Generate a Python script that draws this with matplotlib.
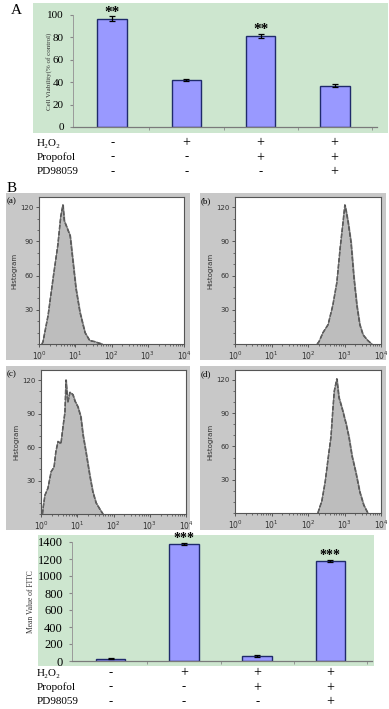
#!/usr/bin/env python3
"""
Figura: viabilidade celular (A), histogramas de citometria (B) e media FITC
"""

import matplotlib
matplotlib.use("Agg")
import matplotlib.pyplot as plt
import numpy as np
from matplotlib.patches import Rectangle
from matplotlib.ticker import LogLocator, NullFormatter, MultipleLocator

W, H = 389, 709

# Painel A - viabilidade (% do controle)
viab = [96.5, 42.0, 81.3, 36.8]
viab_err = [2.2, 0.7, 1.8, 1.2]
viab_stars = ["**", "", "**", ""]

# Grafico FITC
fitc = [25, 1380, 60, 1180]
fitc_err = [6, 12, 8, 10]
fitc_stars = ["", "***", "", "***"]

rotulos = ["H\u2082O\u2082", "Propofol", "PD98059"]
sinais = [
    ["-", "+", "+", "+"],
    ["-", "-", "+", "+"],
    ["-", "-", "-", "+"],
]

# Histogramas (log10 intensidade, contagem)
hist_a_log = [0.08, 0.11, 0.25, 0.39, 0.52, 0.60, 0.66, 0.70, 0.75, 0.86, 0.94,
              1.02, 1.13, 1.27, 1.40, 1.55, 1.63, 1.75]
hist_a_cnt = [0, 2, 25, 58, 87, 112, 122, 108, 104, 95, 72, 49, 28, 10, 3, 2, 1, 0]

hist_b_log = [2.25, 2.30, 2.41, 2.55, 2.68, 2.79, 2.88, 2.96, 3.01, 3.05, 3.10,
              3.18, 3.26, 3.34, 3.42, 3.51, 3.64, 3.75]
hist_b_cnt = [0, 2, 10, 17, 34, 54, 84, 107, 122, 116, 107, 89, 58, 34, 17, 8, 3, 0]

hist_c_log = [0.04, 0.06, 0.11, 0.19, 0.28, 0.36, 0.41, 0.47, 0.55, 0.61, 0.66,
              0.69, 0.74, 0.80, 0.88, 0.94, 1.02, 1.10, 1.16, 1.24, 1.35, 1.43,
              1.52, 1.63, 1.71]
hist_c_cnt = [0, 6, 17, 23, 38, 42, 56, 65, 63, 79, 91, 120, 100, 109, 107, 101,
              96, 87, 71, 56, 34, 20, 10, 4, 0]

hist_d_log = [2.27, 2.38, 2.47, 2.55, 2.63, 2.68, 2.72, 2.79, 2.85, 2.93, 3.04,
              3.12, 3.21, 3.31, 3.42, 3.53, 3.64]
hist_d_cnt = [0, 11, 28, 49, 69, 93, 110, 121, 104, 95, 81, 69, 51, 37, 19, 7, 0]

VERDE = "#cde6cf"
BARRA = "#9999ff"
BORDA = "#1f2a6b"
CINZA = "#c8c8c8"
SERIF = "Liberation Serif"


def caixa(left, top, right, bottom):
    """Converte pixels (origem no topo) para fracao da figura"""
    return [left / W, 1 - bottom / H, (right - left) / W, (bottom - top) / H]


def fundo(fig, left, top, right, bottom, cor):
    r = caixa(left, top, right, bottom)
    fig.patches.append(Rectangle((r[0], r[1]), r[2], r[3], transform=fig.transFigure,
                                 facecolor=cor, edgecolor="none", zorder=-5))


def texto(fig, x, y, s, **kw):
    fig.text(x / W, 1 - y / H, s, **kw)


def grafico_barras(fig, rect, valores, erros, estrelas, ymax, passo, ylabel,
                   tick_fs, lab_fs, star_fs, label_x):
    ax = fig.add_axes(caixa(*rect))
    ax.patch.set_alpha(0)
    x = np.arange(len(valores))
    ax.bar(x, valores, width=0.4, color=BARRA, edgecolor=BORDA, linewidth=1.0, zorder=2)
    ax.errorbar(x, valores, yerr=erros, fmt="none", ecolor="black", elinewidth=0.9,
                capsize=2.5, capthick=0.9, zorder=3)
    for xi, v, e, s in zip(x, valores, erros, estrelas):
        if s:
            ax.text(xi, v + e - ymax * 0.02, s, ha="center", va="bottom",
                    fontsize=star_fs, fontweight="bold", family=SERIF, clip_on=False)
    ax.set_xlim(-0.53, 3.57)
    ax.set_ylim(0, ymax)
    ax.yaxis.set_major_locator(MultipleLocator(passo))
    ax.set_xticks([])
    ax.set_xticks([0.5, 1.5, 2.5, 3.5], minor=True)
    ax.tick_params(axis="x", which="minor", length=2.5, color="#888888")
    ax.tick_params(axis="y", length=2.5, color="#888888", labelsize=tick_fs, pad=4)
    for t in ax.get_yticklabels():
        t.set_family(SERIF)
    for lado in ["top", "right"]:
        ax.spines[lado].set_visible(False)
    ax.spines["left"].set_color("#9a9a9a")
    ax.spines["bottom"].set_color("#7a7a7a")
    ax.spines["left"].set_linewidth(0.7)
    ax.spines["bottom"].set_linewidth(0.9)
    fig.text(label_x / W, ax.get_position().y0 + ax.get_position().height / 2,
             ylabel, rotation=90, ha="center", va="center", fontsize=lab_fs,
             family=SERIF, color="#333333")
    return ax


def linhas_sinais(fig, ax, y0, dy):
    pos = ax.get_position()
    x0, x1 = ax.get_xlim()
    for i, (rot, linha) in enumerate(zip(rotulos, sinais)):
        y = y0 + i * dy
        texto(fig, 37, y, rot, ha="left", va="center", fontsize=8, family=SERIF)
        for j, s in enumerate(linha):
            xf = pos.x0 + (j - x0) / (x1 - x0) * pos.width
            fig.text(xf, 1 - y / H, s, ha="center", va="center",
                     fontsize=10 if s == "+" else 9, family=SERIF)


def histograma(fig, rect, fundo_rect, logs, cnts, letra):
    fundo(fig, *fundo_rect, CINZA)
    ax = fig.add_axes(caixa(*rect))
    xs = 10 ** np.array(logs)
    ax.fill_between(xs, cnts, color="#bdbdbd", zorder=1)
    ax.plot(xs, cnts, color="#3a3a3a", lw=1.1, ls=(0, (3, 1)), zorder=2)
    ax.plot(xs, cnts, color="#6a6a6a", lw=0.6, zorder=2)
    ax.set_xscale("log")
    ax.set_xlim(1, 1e4)
    ax.set_ylim(0, 129)
    ax.set_yticks([30, 60, 90, 120])
    ax.yaxis.set_minor_locator(MultipleLocator(10))
    ax.xaxis.set_major_locator(LogLocator(base=10, numticks=10))
    ax.xaxis.set_minor_locator(LogLocator(base=10, subs=np.arange(2, 10), numticks=20))
    ax.xaxis.set_minor_formatter(NullFormatter())
    ax.tick_params(which="both", labelsize=5, color="#444444", labelcolor="#333333")
    ax.tick_params(axis="x", labelsize=5.5)
    ax.tick_params(which="major", length=2.5, width=0.6, pad=1.5)
    ax.tick_params(which="minor", length=1.5, width=0.5)
    for s in ax.spines.values():
        s.set_color("#555555")
        s.set_linewidth(0.8)
    ax.set_ylabel("Histogram", fontsize=5, color="#333333", labelpad=2)
    texto(fig, fundo_rect[0] + 1, fundo_rect[1] + 8, letra, ha="left", va="center",
          fontsize=6.5, family=SERIF)
    return ax


def gerar_figura():
    fig = plt.figure(figsize=(W / 100, H / 100), dpi=100)

    # Painel A
    fundo(fig, 33, 3, 388, 133, VERDE)
    ax_a = grafico_barras(fig, (73, 15, 377, 127), viab, viab_err, viab_stars, 100, 20,
                          "Cell Viability(% of control)", 8, 5, 11, 49)
    linhas_sinais(fig, ax_a, 143, 14.5)
    texto(fig, 11, 10, "A", ha="left", va="center", fontsize=11, family=SERIF)

    # Painel B - histogramas
    texto(fig, 7, 188, "B", ha="left", va="center", fontsize=11, family=SERIF)
    histograma(fig, (39, 197, 184, 344), (6, 193, 190, 360), hist_a_log, hist_a_cnt, "(a)")
    histograma(fig, (235, 197, 381, 344), (200, 193, 386, 360), hist_b_log, hist_b_cnt, "(b)")
    histograma(fig, (41, 370, 186, 514), (6, 366, 190, 530), hist_c_log, hist_c_cnt, "(c)")
    histograma(fig, (235, 370, 381, 513), (200, 366, 386, 530), hist_d_log, hist_d_cnt, "(d)")

    # Grafico FITC
    fundo(fig, 38, 535, 374, 666, VERDE)
    ax_f = grafico_barras(fig, (72, 542, 372, 661), fitc, fitc_err, fitc_stars, 1400, 200,
                          "Mean Value of FITC", 9, 5.5, 10, 31)
    linhas_sinais(fig, ax_f, 673, 14.5)

    plt.savefig("out.png", dpi=100)
    print("Figura salva: out.png")


if __name__ == "__main__":
    gerar_figura()
